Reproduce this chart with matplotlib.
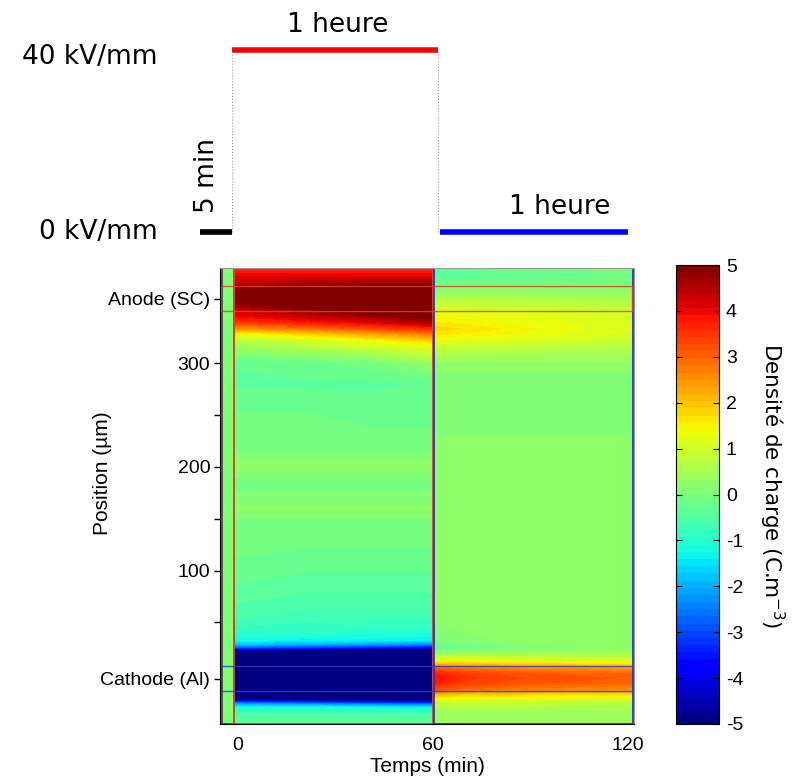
import numpy as np
import matplotlib
matplotlib.use("Agg")
import matplotlib.pyplot as plt
from matplotlib.patches import Rectangle
from matplotlib.colors import Normalize
from matplotlib.cm import ScalarMappable

plt.rcParams['axes.unicode_minus'] = False

# --- Schéma de la tension appliquée (axe des temps, tel que dessiné) ---
schema_debut = [-11.5, -1.8, 62.2]      # min
schema_fin = [-1.8, 61.5, 120.0]        # min
schema_niveau = [0, 40, 0]              # kV/mm
schema_couleur = ['black', 'red', 'blue']
schema_texte = ['5 min', '1 heure', '1 heure']

# --- Cartographie de charge ---
# Phase avant polarisation (5 min, 0 kV/mm)
t_pre = [-4.9, -1.2]
rho_pre = 0.0

# Polarisation 40 kV/mm (1 heure)
t_pol = [-1.2, 20, 40, 60]
pos_pol = [-48, -38, -32, -29, -26, -23, 20, 23, 26, 29, 33, 42, 55, 75, 100,
           130, 150, 160, 175, 190, 200, 215, 245, 280, 300, 308, 315, 322,
           328, 334, 340, 346, 352, 358, 364, 371, 378, 385, 392]
rho_pol = [
    [-0.3, -0.3, -0.3, -0.3],
    [-0.6, -0.6, -0.6, -0.6],
    [-1.2, -1.2, -1.3, -1.4],
    [-2.0, -2.2, -2.4, -2.6],
    [-3.6, -3.9, -4.2, -4.4],
    [-6.0, -6.0, -6.0, -6.0],
    [-6.0, -6.0, -6.0, -6.0],
    [-4.8, -5.0, -5.2, -5.4],
    [-2.8, -3.1, -3.4, -3.7],
    [-1.8, -2.0, -2.2, -2.4],
    [-1.2, -1.3, -1.3, -1.4],
    [-0.9, -0.9, -1.0, -1.0],
    [-0.6, -0.7, -0.7, -0.7],
    [-0.4, -0.5, -0.5, -0.5],
    [-0.2, -0.3, -0.3, -0.3],
    [-0.1, -0.1, -0.1, -0.1],
    [0.0, 0.0, 0.0, 0.0],
    [0.2, 0.2, 0.2, 0.2],
    [0.0, 0.0, 0.0, 0.0],
    [0.0, 0.0, 0.0, 0.0],
    [0.25, 0.25, 0.25, 0.25],
    [0.0, 0.0, 0.0, 0.0],
    [-0.1, -0.1, -0.2, -0.2],
    [-0.35, -0.35, -0.35, -0.3],
    [-0.3, -0.2, -0.1, 0.3],
    [0.0, 0.2, 0.4, 0.8],
    [0.3, 0.6, 0.9, 1.2],
    [0.7, 1.0, 1.4, 1.8],
    [1.3, 1.7, 2.2, 2.7],
    [2.5, 2.9, 3.3, 3.7],
    [3.5, 3.8, 4.1, 4.6],
    [4.0, 4.3, 4.7, 5.2],
    [4.3, 4.8, 5.3, 5.8],
    [4.8, 5.3, 5.8, 6.0],
    [5.0, 5.6, 6.0, 6.0],
    [4.8, 5.2, 5.4, 5.5],
    [4.3, 4.5, 4.6, 4.6],
    [4.0, 4.0, 4.0, 4.0],
    [3.5, 3.5, 3.5, 3.5],
]

# Dépolarisation 0 kV/mm (1 heure)
t_dep = [60.3, 70, 85, 100, 121.5]
pos_dep = [-48, -38, -30, -24, -19, -14, -8, -4, 0, 5, 10, 14, 19, 25, 33, 45,
           60, 110, 226, 232, 284, 300, 308, 315, 322, 328, 333, 338, 344, 350,
           358, 366, 374, 382, 392]
rho_dep = [
    [0.3, 0.3, 0.3, 0.3, 0.3],
    [0.4, 0.4, 0.4, 0.4, 0.4],
    [0.7, 0.7, 0.7, 0.6, 0.6],
    [1.2, 1.2, 1.1, 1.1, 1.0],
    [2.2, 2.0, 1.9, 1.8, 1.8],
    [3.3, 3.0, 2.8, 2.7, 2.6],
    [3.8, 3.4, 3.2, 3.1, 3.0],
    [3.9, 3.5, 3.3, 3.2, 3.1],
    [3.8, 3.4, 3.2, 3.1, 3.0],
    [3.2, 2.9, 2.7, 2.6, 2.5],
    [2.0, 1.9, 1.8, 1.7, 1.6],
    [1.2, 1.2, 1.1, 1.0, 1.0],
    [0.5, 0.5, 0.5, 0.5, 0.5],
    [-0.3, -0.2, 0.0, 0.1, 0.2],
    [0.0, 0.1, 0.2, 0.3, 0.3],
    [0.1, 0.2, 0.3, 0.3, 0.3],
    [0.3, 0.3, 0.3, 0.3, 0.3],
    [0.3, 0.3, 0.3, 0.3, 0.3],
    [0.3, 0.3, 0.3, 0.3, 0.3],
    [0.05, 0.05, 0.05, 0.05, 0.05],
    [0.0, 0.0, 0.0, 0.0, 0.0],
    [0.3, 0.3, 0.3, 0.3, 0.3],
    [0.5, 0.5, 0.45, 0.4, 0.4],
    [0.9, 0.85, 0.8, 0.75, 0.65],
    [1.25, 1.2, 1.1, 1.0, 0.85],
    [1.6, 1.5, 1.4, 1.25, 1.05],
    [1.8, 1.7, 1.5, 1.3, 1.1],
    [1.65, 1.55, 1.4, 1.3, 1.1],
    [1.4, 1.35, 1.3, 1.2, 1.05],
    [1.2, 1.15, 1.1, 1.05, 0.95],
    [0.85, 0.85, 0.8, 0.75, 0.65],
    [0.4, 0.4, 0.4, 0.35, 0.35],
    [0.0, 0.0, 0.0, 0.05, 0.05],
    [-0.3, -0.3, -0.3, -0.2, -0.1],
    [-0.4, -0.4, -0.3, -0.2, -0.1],
]

# Zones des électrodes (µm)
anode_zone = (350.5, 374.6)
cathode_zone = (-15.7, 7.5)

x_lim = (-5.5, 121.8)
y_lim = (-48, 392)

cmap = plt.get_cmap('jet', 64)
niveaux = np.linspace(-5, 5, 65)
norm = Normalize(-5, 5)

fig = plt.figure(figsize=(7.94, 7.80), dpi=100)

# Axe principal
ax = fig.add_axes([220 / 794, 1 - 724 / 780, 414 / 794, 456 / 780])
ax.pcolormesh(t_pre, y_lim, [[rho_pre]], cmap=cmap, norm=norm)
ax.contourf(t_pol, pos_pol, np.array(rho_pol), levels=niveaux, cmap=cmap,
            extend='both')
ax.contourf(t_dep, pos_dep, np.array(rho_dep), levels=niveaux, cmap=cmap,
            extend='both')

# Cadres des différentes phases
haut = y_lim[1] - y_lim[0]
ax.add_patch(Rectangle((t_pre[0], y_lim[0]), t_pre[1] - t_pre[0], haut,
                       fill=False, edgecolor='#3a3a3a', linewidth=1.2))
ax.add_patch(Rectangle((t_pol[0], y_lim[0]), t_pol[-1] - t_pol[0], haut,
                       fill=False, edgecolor='#e04a22', linewidth=1.3))
ax.add_patch(Rectangle((t_dep[0], y_lim[0]), t_dep[-1] - t_dep[0], haut,
                       fill=False, edgecolor='#2036d8', linewidth=1.3))
ax.add_patch(Rectangle((-5.2, anode_zone[0]), 126.4, anode_zone[1] - anode_zone[0],
                       fill=False, edgecolor='#e0402a', linewidth=1.0,
                       alpha=0.85, clip_on=False))
ax.add_patch(Rectangle((-5.2, cathode_zone[0]), 126.6, cathode_zone[1] - cathode_zone[0],
                       fill=False, edgecolor='#2a3ad8', linewidth=1.0,
                       alpha=0.85, clip_on=False))

ax.set_xlim(x_lim)
ax.set_ylim(y_lim)
ax.set_xticks([0, 60, 120])
ax.set_yticks([np.mean(cathode_zone), 100, 200, 300, np.mean(anode_zone)],
              labels=['Cathode (Al)', '100', '200', '300', 'Anode (SC)'])
ax.set_yticks([50, 150, 250], minor=True)
for lab in ax.get_xticklabels() + ax.get_yticklabels():
    lab.set_family('Liberation Sans')
    lab.set_fontsize(14)
ax.tick_params(axis='y', which='both', direction='out', length=4, width=1, pad=3)
ax.tick_params(axis='x', length=0, pad=9)
ax.set_xlabel('Temps (min)', family='Liberation Sans', fontsize=15)
ax.set_ylabel('Position (µm)', family='Liberation Sans', fontsize=15)
ax.xaxis.set_label_coords(0.5, -0.072)
ax.yaxis.set_label_coords(-0.26, 0.55)
ax.spines['top'].set_color('#999999')
ax.spines['right'].set_color('#999999')

# Barre de couleur
cax = fig.add_axes([676 / 794, 1 - 724 / 780, 43 / 794, 459 / 780])
cb = fig.colorbar(ScalarMappable(norm=norm, cmap=cmap), cax=cax,
                  ticks=range(-5, 6))
cax.tick_params(direction='in', left=True, right=True, length=4, pad=5)
for lab in cax.get_yticklabels():
    lab.set_family('Liberation Sans')
    lab.set_fontsize(14)
fig.text(772 / 794, 1 - 486 / 780, 'Densité de charge (C.m$^{-3}$)',
         rotation=270, ha='center', va='center', fontsize=15.5)

# Schéma de la tension
sx = fig.add_axes([220 / 794, 1 - 250 / 780, 414 / 794, 250 / 780])
sx.set_xlim(x_lim)
sx.set_ylim(-3.96, 50.99)
sx.axis('off')
for d, f, v, c in zip(schema_debut, schema_fin, schema_niveau, schema_couleur):
    sx.plot([d, f], [v, v], color=c, linewidth=4, solid_capstyle='butt',
            clip_on=False)
for x in (schema_debut[1], schema_fin[1]):
    sx.plot([x, x], [0, 40], color='#999999', linewidth=0.8, linestyle=':')

sx.text(-24.6, 38.5, '40 kV/mm', ha='right', va='center', fontsize=19)
sx.text(-24.6, 0, '0 kV/mm', ha='right', va='center', fontsize=19)
sx.text(30.8, 45.5, schema_texte[1], ha='center', va='center', fontsize=19)
sx.text(99, 5.5, schema_texte[2], ha='center', va='center', fontsize=19)
sx.text(-9.5, 12.5, schema_texte[0], ha='center', va='center', rotation=90,
        fontsize=19)

fig.savefig('out.png', dpi=100)
